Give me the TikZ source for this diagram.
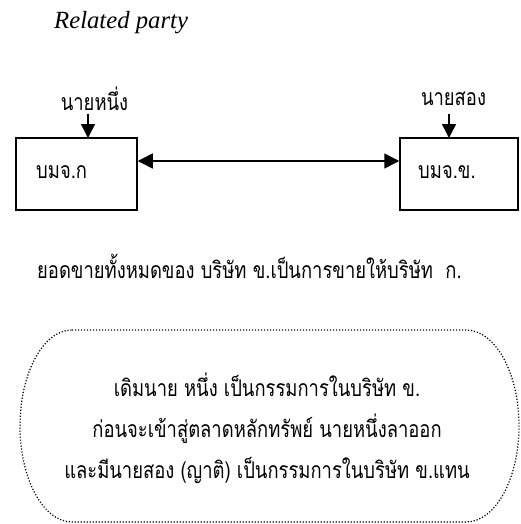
\documentclass[tikz,border=0pt]{standalone}
\usepackage{fontspec}
\setmainfont{Liberation Serif}
\newfontfamily\thai[Script=Thai, FakeStretch=0.8]{Loma}
\usetikzlibrary{arrows.meta}
\tikzset{
  company/.style={draw, line width=1.5pt, minimum width=121pt, minimum height=72pt, inner sep=0pt},
  thaitext/.style={font=\thai\fontsize{23}{26}\selectfont, inner sep=0pt},
  conn/.style={line width=1.5pt, -{Triangle[length=14pt,width=14pt]}},
  biconn/.style={line width=1.5pt, {Triangle[length=15pt,width=15pt]}-{Triangle[length=15pt,width=15pt]}},
  note/.style={line width=1.2pt, dash pattern=on 1.2pt off 1.8pt},
}
\begin{document}
\begin{tikzpicture}[x=1pt,y=-1pt]
\useasboundingbox (0,0) rectangle (520,524);
% title
\node[anchor=base west, inner sep=0pt, font=\itshape\fontsize{24.7}{28}\selectfont] (title) at (54,29) {Related party};
% boxes
\node[company] (A) at (76.5,174) {};
\node[company, minimum width=118pt] (B) at (459,174) {};
\node[thaitext, anchor=west] (Atext) at (36,172) {บมจ.ก};
\node[thaitext, anchor=west] (Btext) at (418,172) {บมจ.ข.};
% persons
\node[thaitext] (p1) at (94.5,99) {นายหนึ่ง};
\node[thaitext] (p2) at (453.5,99) {นายสอง};
\coordinate (a1) at (88,138);
\coordinate (a2) at (449,138);
\draw[conn] (a1 |- 0,114) -- (a1);
\draw[conn] (a2 |- 0,114) -- (a2);
% trade
\draw[biconn] ([yshift=13pt]A.east) -- ([yshift=13pt]B.west);
% sales text
\node[thaitext, anchor=west] (sales) at (37,266) {ยอดขายทั้งหมดของ บริษัท ข.เป็นการขายให้บริษัท\ \ ก.};
% note
\draw[note] (72,330) -- (466,330)
  arc[start angle=-90, end angle=90, x radius=53, y radius=96]
  -- (72,522)
  arc[start angle=90, end angle=270, x radius=52, y radius=96] -- cycle;
\node[thaitext, align=center, font=\thai\fontsize{23}{41}\selectfont] (notetext) at (267,428)
  {เดิมนาย หนึ่ง เป็นกรรมการในบริษัท ข.\\ก่อนจะเข้าสู่ตลาดหลักทรัพย์ นายหนึ่งลาออก\\และมีนายสอง (ญาติ) เป็นกรรมการในบริษัท ข.แทน};
\end{tikzpicture}
\end{document}
